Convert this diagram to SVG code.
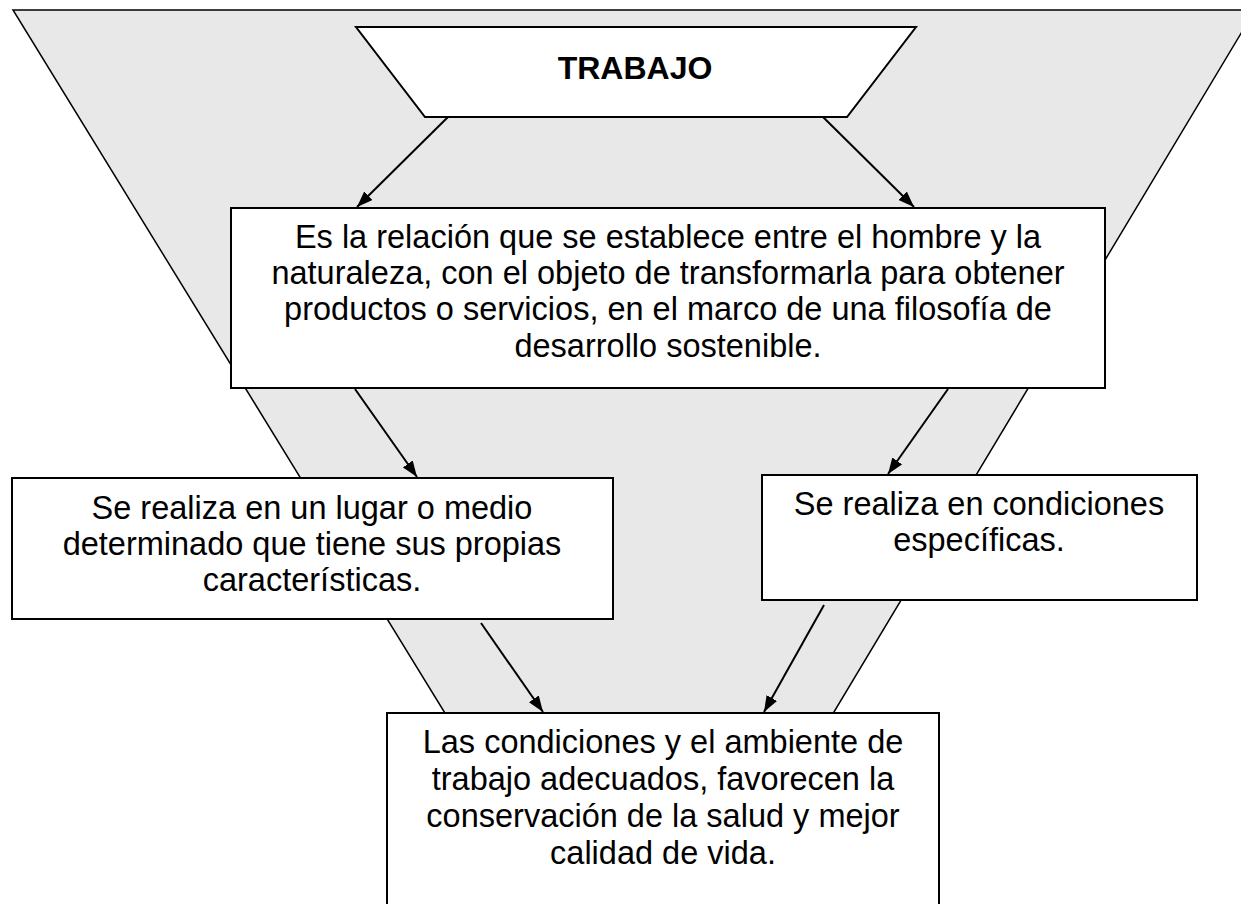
<svg xmlns="http://www.w3.org/2000/svg" width="1241" height="904" viewBox="0 0 1241 904">
<style>
.box{fill:#ffffff;stroke:#000000;stroke-width:2}
.t{font-family:"Liberation Sans",Arial,sans-serif;font-size:32.5px;fill:#000000;text-anchor:middle}
.b{font-weight:bold;font-size:32px}
.c{stroke:#000000;stroke-width:2;fill:none;marker-end:url(#ah)}
</style>
<defs>
<marker id="ah" viewBox="0 0 16 12" refX="16" refY="6" markerWidth="16" markerHeight="12" orient="auto" markerUnits="userSpaceOnUse">
<path d="M0,0 L16,6 L0,12 z" fill="#000000"/>
</marker>
</defs>
<g id="funnel">
<polygon points="13,10 1255,10 804,762 475,762" fill="#e8e8e8" stroke="#000000" stroke-width="1.5"/>
</g>
<g id="connectors">
<line class="c" x1="448" y1="117" x2="357" y2="207"/>
<line class="c" x1="823" y1="117" x2="914" y2="207"/>
<line class="c" x1="355" y1="389" x2="417" y2="477"/>
<line class="c" x1="948" y1="389" x2="888" y2="474"/>
<line class="c" x1="481" y1="623" x2="543" y2="712"/>
<line class="c" x1="824" y1="605" x2="764" y2="712"/>
</g>
<g id="trabajo">
<polygon class="box" points="356,27 916,27 847,117 425,117"/>
<text class="t b" x="635" y="79">TRABAJO</text>
</g>
<g id="definicion">
<rect class="box" x="231" y="208" width="874" height="180"/>
<text class="t" x="668" y="248">Es la relación que se establece entre el hombre y la</text>
<text class="t" x="668" y="284">naturaleza, con el objeto de transformarla para obtener</text>
<text class="t" x="668" y="320">productos o servicios, en el marco de una filosofía de</text>
<text class="t" x="668" y="357">desarrollo sostenible.</text>
</g>
<g id="lugar">
<rect class="box" x="12" y="478" width="601" height="141"/>
<text class="t" x="312" y="519">Se realiza en un lugar o medio</text>
<text class="t" x="312" y="555">determinado que tiene sus propias</text>
<text class="t" x="312" y="591">características.</text>
</g>
<g id="condiciones">
<rect class="box" x="762" y="475" width="435" height="125"/>
<text class="t" x="979" y="515">Se realiza en condiciones</text>
<text class="t" x="979" y="551">específicas.</text>
</g>
<g id="ambiente">
<rect class="box" x="387" y="713" width="552" height="200"/>
<text class="t" x="663" y="753">Las condiciones y el ambiente de</text>
<text class="t" x="663" y="790">trabajo adecuados, favorecen la</text>
<text class="t" x="663" y="827">conservación de la salud y mejor</text>
<text class="t" x="663" y="864">calidad de vida.</text>
</g>
</svg>
